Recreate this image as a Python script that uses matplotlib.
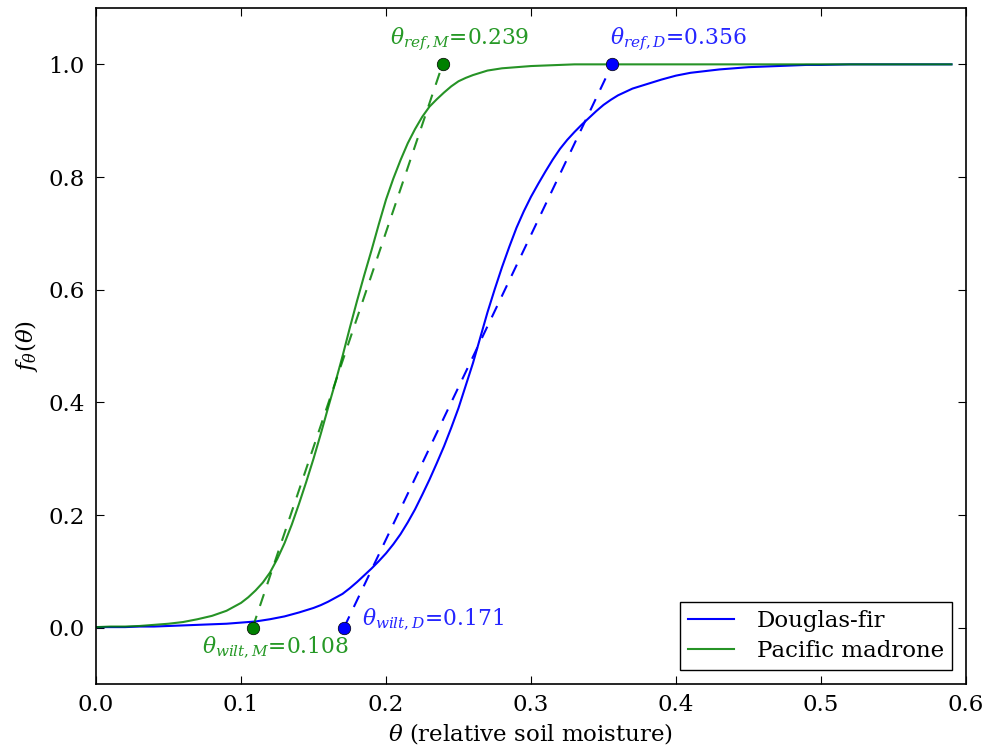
import numpy as np
import matplotlib
matplotlib.use("Agg")
import matplotlib.pyplot as plt

# stress curves (denser sampling where the curves are steep)
theta_D = [0.00, 0.01, 0.02, 0.03, 0.04, 0.05, 0.06, 0.07, 0.08, 0.09, 0.10, 0.11, 0.12, 0.13, 0.14,
           0.150, 0.155, 0.160, 0.165, 0.170, 0.175, 0.180, 0.185, 0.190, 0.195,
           0.200, 0.205, 0.210, 0.215, 0.220, 0.225, 0.230, 0.235, 0.240, 0.245,
           0.250, 0.255, 0.260, 0.265, 0.270, 0.275, 0.280, 0.285, 0.290, 0.295,
           0.300, 0.305, 0.310, 0.315, 0.320, 0.325, 0.330, 0.335, 0.340, 0.345,
           0.350, 0.355, 0.360, 0.365, 0.370, 0.375, 0.380,
           0.39, 0.40, 0.41, 0.42, 0.43, 0.44, 0.45, 0.46, 0.47, 0.48, 0.49, 0.50,
           0.52, 0.54, 0.56, 0.59]
f_douglas = [0.001, 0.001, 0.001, 0.002, 0.002, 0.003, 0.004, 0.005, 0.006, 0.007, 0.009, 0.011, 0.015, 0.020, 0.027,
             0.035, 0.040, 0.046, 0.053, 0.060, 0.070, 0.081, 0.093, 0.105, 0.118,
             0.132, 0.148, 0.166, 0.187, 0.210, 0.236, 0.263, 0.292, 0.322, 0.355,
             0.390, 0.430, 0.470, 0.515, 0.560, 0.601, 0.640, 0.676, 0.710, 0.739,
             0.765, 0.788, 0.810, 0.831, 0.850, 0.866, 0.880, 0.893, 0.905, 0.917,
             0.928, 0.937, 0.945, 0.951, 0.957, 0.961, 0.965,
             0.973, 0.980, 0.985, 0.988, 0.991, 0.993, 0.995, 0.996, 0.997, 0.998, 0.999, 0.999,
             1.000, 1.000, 1.000, 1.000]
theta_M = [0.00, 0.01, 0.02, 0.03, 0.04, 0.05, 0.06, 0.07, 0.08, 0.09,
           0.100, 0.105, 0.110, 0.115, 0.120, 0.125, 0.130, 0.135, 0.140, 0.145,
           0.150, 0.155, 0.160, 0.165, 0.170, 0.175, 0.180, 0.185, 0.190, 0.195,
           0.200, 0.205, 0.210, 0.215, 0.220, 0.225, 0.230, 0.235, 0.240, 0.245,
           0.250, 0.255, 0.260, 0.265, 0.270, 0.275, 0.280,
           0.29, 0.30, 0.31, 0.32, 0.33, 0.35, 0.40, 0.45, 0.50, 0.55, 0.59]
f_madrone = [0.001, 0.002, 0.002, 0.003, 0.005, 0.007, 0.010, 0.015, 0.021, 0.030,
             0.044, 0.054, 0.066, 0.080, 0.098, 0.122, 0.150, 0.183, 0.220, 0.259,
             0.300, 0.344, 0.390, 0.435, 0.482, 0.532, 0.580, 0.626, 0.670, 0.716,
             0.760, 0.797, 0.830, 0.860, 0.885, 0.907, 0.925, 0.938, 0.950, 0.961,
             0.970, 0.976, 0.981, 0.985, 0.989, 0.991, 0.993,
             0.995, 0.997, 0.998, 0.999, 1.000, 1.000, 1.000, 1.000, 1.000, 1.000, 1.000]
wilt_D, ref_D = 0.171, 0.356
wilt_M, ref_M = 0.108, 0.239

FS = 16.5
AFS = 15.7
plt.rcParams.update({"font.family": "DejaVu Serif", "mathtext.fontset": "dejavuserif",
                     "font.size": FS, "xtick.direction": "in", "ytick.direction": "in",
                     "xtick.top": True, "ytick.right": True,
                     "xtick.major.size": 6, "ytick.major.size": 6,
                     "xtick.major.pad": 7, "ytick.major.pad": 8})

fig = plt.figure(figsize=(9.82, 7.5), dpi=100)
ax = fig.add_axes([0.0978, 0.088, 0.8859, 0.9013])

ax.plot(theta_D, f_douglas, color="b", lw=1.5, label="Douglas-fir")
ax.plot(theta_M, f_madrone, color="g", lw=1.5, label="Pacific madrone", alpha=0.85)
ax.plot([wilt_D, ref_D], [0, 1], "--", color="b", lw=1.5, dashes=(6, 5))
ax.plot([wilt_M, ref_M], [0, 1], "--", color="g", lw=1.5, dashes=(6, 5), alpha=0.85)
ax.plot([wilt_D, ref_D], [0, 1], "o", color="b", ms=9, mec="k", mew=0.5)
ax.plot([wilt_M, ref_M], [0, 1], "o", color="g", ms=9, mec="k", mew=0.5)

tb = (0.15, 0.15, 1.0)
tg = (0.15, 0.6, 0.15)
ax.text(ref_M - 0.036, 1.045, r"$\theta_{ref,M}$=%.3f" % ref_M, color=tg, fontsize=AFS, va="center")
ax.text(ref_D - 0.0015, 1.045, r"$\theta_{ref,D}$=%.3f" % ref_D, color=tb, fontsize=AFS, va="center")
ax.text(wilt_D + 0.0125, 0.015, r"$\theta_{wilt,D}$=%.3f" % wilt_D, color=tb, fontsize=AFS, va="center")
ax.text(wilt_M - 0.035, -0.035, r"$\theta_{wilt,M}$=%.3f" % wilt_M, color=tg, fontsize=AFS, va="center")

ax.set_xlim(0, 0.6); ax.set_ylim(-0.1, 1.1)
ax.set_xticks(np.arange(0, 0.61, 0.1)); ax.set_yticks(np.arange(0, 1.01, 0.2))
ax.set_xlabel(r"$\theta$ (relative soil moisture)", fontsize=FS, labelpad=4)
ax.set_ylabel(r"$f_\theta(\theta)$", fontsize=FS, labelpad=6)
leg = ax.legend(loc="lower right", fontsize=FS, fancybox=False, framealpha=1,
                handlelength=2.0, borderpad=0.35, borderaxespad=0.6, labelspacing=0.35,
                handletextpad=1.0)
leg.get_frame().set_edgecolor("k")
for s in ax.spines.values(): s.set_linewidth(1.2)
fig.savefig("out.png", dpi=100)
